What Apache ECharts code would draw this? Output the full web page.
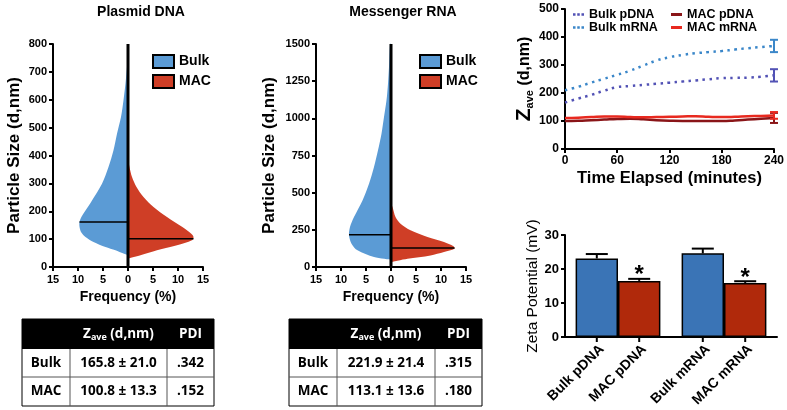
<!DOCTYPE html>
<html><head><meta charset="utf-8">
<script src="https://cdn.jsdelivr.net/npm/echarts@6/dist/echarts.min.js"></script>
<style>html,body{margin:0;padding:0;background:#fff}#c{width:787px;height:410px}</style>
</head><body><div id="c"></div>
<script>
const FONT = "'Liberation Sans', Arial, Helvetica, sans-serif";
const TFONT = "'Open Sans', sans-serif";

// ---- Panel A: Plasmid DNA size distributions  [frequency %, size nm]
const pdnaBulkDist = [[0,42],[0.9,48],[2.5,60],[4.5,72],[6.9,90],[8.5,108],[9.4,126],[9.7,144],[9.7,161],[9.3,180],[8.6,200],[7.2,239],[5.2,299],[3.9,359],[2.9,419],[2.2,478],[1.4,538],[0.9,598],[0.5,658],[0.2,718],[0,760]];
const pdnaMacDist  = [[0,30],[2.5,42],[5.8,60],[9.8,78],[12.8,96],[13.1,108],[12.6,120],[10.8,144],[7.8,179],[5.1,215],[3.1,251],[1.7,287],[0.8,323],[0.3,359],[0,395]];
const pdnaBulkPeak = [9.7, 161];
const pdnaMacPeak  = [13.1, 101];

// ---- Panel B: Messenger RNA size distributions
const mrnaBulkDist = [[0,49],[3.4,67],[6.7,112],[7.9,157],[8.4,213],[8.2,269],[7.4,336],[5.7,448],[4.4,560],[3.4,673],[2.6,785],[1.9,897],[1.4,1009],[0.9,1121],[0.6,1233],[0.4,1345],[0.2,1500],[0,1500]];
const mrnaMacDist  = [[0,34],[3.3,56],[7.9,78],[10.6,101],[12.7,123],[12.5,139],[10.6,168],[7.3,202],[3.9,247],[1.9,291],[0.9,336],[0.3,404],[0,426]];
const mrnaBulkPeak = [8.4, 217];
const mrnaMacPeak  = [12.7, 128];

// ---- Panel C: Z-average over time
const timeMinutes = [0,15,30,45,60,75,90,105,120,135,150,165,180,195,210,225,240];
const zBulkPdna = [166,180,193,208,221,225,229,233,237,241,245,249,253,254,255,258,263];
const zBulkMrna = [210,222,237,251,265,280,298,316,328,336,342,346,350,355,360,364,368];
const zMacPdna  = [100,101,103,105,107,108,106,103,101,100,100,100,100,102,105,108,111];
const zMacMrna  = [111,112,114,116,116,114,113,114,115,116,117,115,114,115,117,118,120];
const zErr240   = [22, 22, 18, 12];   // Bulk pDNA, Bulk mRNA, MAC pDNA, MAC mRNA

// ---- Panel D: Zeta potential
const zetaCategories = ['pDNA', 'mRNA'];
const zetaGroups = ['Bulk', 'MAC'];
const zetaBulk = [23.1, 24.6];
const zetaBulkErr = [1.3, 1.4];
const zetaMac = [16.5, 15.9];
const zetaMacErr = [0.6, 0.5];
const zetaMacSignificant = [true, true];

// ---- Tables
const tableHeader = ['', 'Z|ave| (d,nm)', 'PDI'];
const pdnaTable = [['Bulk', '165.8 ± 21.0', '.342'], ['MAC', '100.8 ± 13.3', '.152']];
const mrnaTable = [['Bulk', '221.9 ± 21.4', '.315'], ['MAC', '113.1 ± 13.6', '.180']];

const C = {
  vBlue: '#5b9bd5', vRed: '#cf3e26',
  bBlue: '#3a74b6', bRed: '#b0290b',
  lBulkP: '#5252b5', lBulkM: '#3b87c9', lMacP: '#8a1518', lMacM: '#e8291f'
};

function axis(o) {
  const a = {
    axisLine: {show: true, onZero: false, lineStyle: {color: '#000', width: 2}},
    axisTick: {show: true, length: 4, lineStyle: {color: '#000', width: 2}},
    axisLabel: {color: '#000', fontWeight: 'bold', fontSize: 11, fontFamily: FONT, margin: 6, formatter: v => String(v)},
    splitLine: {show: false},
    nameLocation: 'middle',
    nameTextStyle: {color: '#000', fontWeight: 'bold', fontFamily: FONT, fontSize: 14}
  };
  for (const k in o) {
    if (a[k] && typeof a[k] === 'object' && typeof o[k] === 'object' && !Array.isArray(o[k])) a[k] = Object.assign({}, a[k], o[k]);
    else a[k] = o[k];
  }
  return a;
}

function violin(name, gi, dist, sign, color) {
  return {
    type: 'custom', name, xAxisIndex: gi, yAxisIndex: gi, z: 2, silent: true,
    itemStyle: {color},
    data: dist,
    renderItem(params, api) {
      if (params.dataIndex !== 0) return null;
      const pts = dist.map(p => api.coord([sign * p[0], p[1]]));
      return {type: 'polyline', shape: {points: pts, smooth: 0.3}, style: {fill: color, stroke: null, lineWidth: 0}};
    }
  };
}
function seg(gi, pts, w, z) {
  return {type: 'line', xAxisIndex: gi, yAxisIndex: gi, data: pts, symbol: 'none', silent: true, z,
    lineStyle: {color: '#000', width: w}, animation: false};
}

const series = [
  violin('Bulk', 0, pdnaBulkDist, -1, C.vBlue),
  violin('MAC', 0, pdnaMacDist, 1, C.vRed),
  seg(0, [[-pdnaBulkPeak[0], pdnaBulkPeak[1]], [0, pdnaBulkPeak[1]]], 1.5, 3),
  seg(0, [[0, pdnaMacPeak[1]], [pdnaMacPeak[0], pdnaMacPeak[1]]], 1.5, 3),
  seg(0, [[0, 0], [0, 800]], 3, 4),
  violin('Bulk', 1, mrnaBulkDist, -1, C.vBlue),
  violin('MAC', 1, mrnaMacDist, 1, C.vRed),
  seg(1, [[-mrnaBulkPeak[0], mrnaBulkPeak[1]], [0, mrnaBulkPeak[1]]], 1.5, 3),
  seg(1, [[0, mrnaMacPeak[1]], [mrnaMacPeak[0], mrnaMacPeak[1]]], 1.5, 3),
  seg(1, [[0, 0], [0, 1500]], 3, 4)
];

const timeSets = [
  ['Bulk pDNA', zBulkPdna, C.lBulkP, true],
  ['Bulk mRNA', zBulkMrna, C.lBulkM, true],
  ['MAC pDNA', zMacPdna, C.lMacP, false],
  ['MAC mRNA', zMacMrna, C.lMacM, false]
];
timeSets.forEach(([name, vals, color, dotted]) => {
  series.push({
    type: 'line', name, xAxisIndex: 2, yAxisIndex: 2, smooth: true, symbol: 'none',
    data: timeMinutes.map((t, i) => [t, vals[i]]),
    itemStyle: {color},
    lineStyle: {color, width: dotted ? 2.5 : 2.5, type: dotted ? [2.5, 4.5] : 'solid'},
    z: dotted ? 3 : 2
  });
});
series.push({
  type: 'custom', xAxisIndex: 2, yAxisIndex: 2, silent: true, z: 5,
  data: timeSets.map((s, i) => [timeMinutes[timeMinutes.length - 1], s[1][s[1].length - 1], zErr240[i], i]),
  renderItem(params, api) {
    const x = api.value(0), v = api.value(1), e = api.value(2), idx = api.value(3);
    const top = api.coord([x, v + e]), bot = api.coord([x, v - e]);
    const st = {stroke: timeSets[idx][2], lineWidth: 2};
    return {type: 'group', children: [
      {type: 'line', shape: {x1: top[0], y1: top[1], x2: bot[0], y2: bot[1]}, style: st},
      {type: 'line', shape: {x1: top[0] - 4, y1: top[1], x2: top[0] + 4, y2: top[1]}, style: st},
      {type: 'line', shape: {x1: bot[0] - 4, y1: bot[1], x2: bot[0] + 4, y2: bot[1]}, style: st}
    ]};
  }
});

// zeta bars
series.push({
  type: 'bar', name: 'Bulk zeta', xAxisIndex: 3, yAxisIndex: 3, data: zetaBulk,
  barGap: '0%', barCategoryGap: '20%', silent: true,
  itemStyle: {color: C.bBlue, borderColor: '#000', borderWidth: 1.5}
});
series.push({
  type: 'bar', name: 'MAC zeta', xAxisIndex: 3, yAxisIndex: 3, data: zetaMac,
  barGap: '0%', barCategoryGap: '20%', silent: true,
  itemStyle: {color: C.bRed, borderColor: '#000', borderWidth: 1.5}
});
const zetaItems = [];
zetaCategories.forEach((c, ci) => {
  zetaItems.push([ci, zetaBulk[ci], zetaBulkErr[ci], 0, 0]);
  zetaItems.push([ci, zetaMac[ci], zetaMacErr[ci], 1, zetaMacSignificant[ci] ? 1 : 0]);
});
series.push({
  type: 'custom', xAxisIndex: 3, yAxisIndex: 3, silent: true, z: 5, data: zetaItems,
  renderItem(params, api) {
    const ci = api.value(0), v = api.value(1), e = api.value(2), g = api.value(3), sig = api.value(4);
    const base = api.coord([ci, 0]);
    const catW = api.size([1, 0])[0];
    const barW = catW * 0.8 / 2;
    const x = base[0] + (g === 0 ? -barW / 2 : barW / 2);
    const yTop = api.coord([ci, v])[1];
    const yErr = api.coord([ci, v + e])[1];
    const st = {stroke: '#000', lineWidth: 2};
    const ch = [
      {type: 'line', shape: {x1: x, y1: yTop, x2: x, y2: yErr}, style: st},
      {type: 'line', shape: {x1: x - 11, y1: yErr, x2: x + 11, y2: yErr}, style: st},
      {type: 'line', shape: {x1: x, y1: base[1], x2: x, y2: base[1] + 5}, style: st},
      {type: 'text', x: x + 5, y: base[1] + 10, rotation: Math.PI / 4,
        style: {text: zetaGroups[g] + ' ' + zetaCategories[ci], align: 'right', verticalAlign: 'middle',
          fontSize: 14, fontWeight: 'bold', fontFamily: FONT, fill: '#000'}}
    ];
    if (sig) ch.push({type: 'text', x: x, y: yErr - 3,
      style: {text: '*', align: 'center', verticalAlign: 'middle', fontSize: 24, fontWeight: 'bold', fontFamily: FONT, fill: '#000'}});
    return {type: 'group', children: ch};
  }
});

// tables
function buildTable(left, top, colW, rowH, header, rows) {
  const els = [];
  const W = colW.reduce((a, b) => a + b, 0), H = rowH.reduce((a, b) => a + b, 0);
  els.push({type: 'rect', shape: {x: left, y: top, width: W, height: H}, style: {fill: '#fff', stroke: '#000', lineWidth: 1}});
  els.push({type: 'rect', shape: {x: left, y: top, width: W, height: rowH[0]}, style: {fill: '#000'}});
  let y = top + rowH[0];
  for (let r = 1; r < rowH.length; r++) {
    if (r > 1) els.push({type: 'line', shape: {x1: left, y1: y, x2: left + W, y2: y}, style: {stroke: '#555', lineWidth: 1}});
    y += rowH[r];
  }
  let x = left;
  for (let c = 0; c < colW.length - 1; c++) {
    x += colW[c];
    els.push({type: 'line', shape: {x1: x, y1: top + rowH[0], x2: x, y2: top + H}, style: {stroke: '#555', lineWidth: 1}});
  }
  const all = [header].concat(rows);
  let yy = top;
  all.forEach((row, r) => {
    let xx = left;
    row.forEach((txt, c) => {
      const cx = xx + colW[c] / 2, cy = yy + rowH[r] / 2;
      if (txt) {
        const parts = txt.split('|');
        const st = {align: 'center', verticalAlign: 'middle', fontFamily: TFONT, fontWeight: 'bold', fontSize: 13.5, fill: r === 0 ? '#fff' : '#000'};
        if (parts.length === 3) {
          st.text = '{a|' + parts[0] + '}{b|' + parts[1] + '}{a|' + parts[2] + '}';
          st.rich = {a: {fontSize: 13.5, fontWeight: 'bold', fontFamily: TFONT, fill: '#fff', color: '#fff'},
                     b: {fontSize: 9, fontWeight: 'bold', fontFamily: TFONT, fill: '#fff', color: '#fff', verticalAlign: 'bottom', padding: [6, 0, 0, 0]}};
        } else st.text = txt;
        els.push({type: 'text', x: cx, y: cy, style: st});
      }
      xx += colW[c];
    });
    yy += rowH[r];
  });
  return els;
}
const graphics = [].concat(
  buildTable(22, 319, [48, 97, 47], [30, 28, 29], tableHeader, pdnaTable),
  buildTable(289, 319, [48, 98, 47], [30, 28, 29], tableHeader, mrnaTable)
);

const legendText = {color: '#000', fontWeight: 'bold', fontFamily: FONT, fontSize: 14};
const vLegendData = [
  {name: 'Bulk', icon: 'rect', itemStyle: {borderColor: '#000', borderWidth: 2}},
  {name: 'MAC', icon: 'rect', itemStyle: {borderColor: '#000', borderWidth: 2}}
];
const DOTS = 'path://M0,0h3v3h-3z M5,0h3v3h-3z M10,0h3v3h-3z';
const tLegendText = Object.assign({}, legendText, {fontSize: 12.5, lineHeight: 12});

const option = {
  animation: false,
  backgroundColor: '#fff',
  title: [
    {text: 'Plasmid DNA', left: 136, top: 0, textAlign: 'center', textStyle: {fontFamily: FONT, fontWeight: 'bold', fontSize: 14, color: '#000'}},
    {text: 'Messenger RNA', left: 398, top: 0, textAlign: 'center', textStyle: {fontFamily: FONT, fontWeight: 'bold', fontSize: 14, color: '#000'}}
  ],
  legend: [
    {left: 147, top: 49, orient: 'vertical', itemWidth: 21, itemHeight: 13, itemGap: 5, selectedMode: false, data: vLegendData, textStyle: legendText},
    {left: 414, top: 49, orient: 'vertical', itemWidth: 21, itemHeight: 13, itemGap: 5, selectedMode: false, data: vLegendData, textStyle: legendText},
    {left: 573, top: 8, orient: 'vertical', itemWidth: 11, itemHeight: 3, itemGap: 0, selectedMode: false, padding: 0,
      data: [{name: 'Bulk pDNA', icon: DOTS}, {name: 'Bulk mRNA', icon: DOTS}], textStyle: tLegendText},
    {left: 671, top: 8, orient: 'vertical', itemWidth: 11, itemHeight: 3, itemGap: 0, selectedMode: false, padding: 0,
      data: [{name: 'MAC pDNA', icon: 'rect'}, {name: 'MAC mRNA', icon: 'rect'}], textStyle: tLegendText}
  ],
  grid: [
    {left: 53, top: 44, width: 150, height: 223},
    {left: 316, top: 44, width: 150, height: 223},
    {left: 565, top: 9, width: 210, height: 140},
    {left: 565, top: 235, width: 212, height: 102}
  ],
  xAxis: [
    axis({type: 'value', gridIndex: 0, min: -15, max: 15, interval: 5, name: 'Frequency (%)', nameGap: 20,
      axisLabel: {formatter: v => String(Math.abs(v)), margin: 7}}),
    axis({type: 'value', gridIndex: 1, min: -15, max: 15, interval: 5, name: 'Frequency (%)', nameGap: 20,
      axisLabel: {formatter: v => String(Math.abs(v)), margin: 7}}),
    axis({type: 'value', gridIndex: 2, min: 0, max: 240, interval: 60, name: 'Time Elapsed (minutes)', nameGap: 21,
      axisLabel: {fontSize: 12}, nameTextStyle: {fontSize: 16.5, fontWeight: 'bold', color: '#000', fontFamily: FONT}}),
    axis({type: 'category', gridIndex: 3, data: zetaCategories, axisTick: {show: false}, axisLabel: {show: false}})
  ],
  yAxis: [
    axis({type: 'value', gridIndex: 0, min: 0, max: 800, interval: 100, name: 'Particle Size (d,nm)', nameGap: 30,
      nameTextStyle: {fontSize: 17, fontWeight: 'bold', color: '#000', fontFamily: FONT}}),
    axis({type: 'value', gridIndex: 1, min: 0, max: 1500, interval: 250, name: 'Particle Size (d,nm)', nameGap: 38,
      nameTextStyle: {fontSize: 17, fontWeight: 'bold', color: '#000', fontFamily: FONT}}),
    axis({type: 'value', gridIndex: 2, min: 0, max: 500, interval: 100, name: '{z|Z}{s|ave}{n| (d,nm)}', nameGap: 29,
      axisLabel: {fontSize: 12},
      nameTextStyle: {color: '#000', fontFamily: FONT, rich: {
        z: {fontSize: 21, fontWeight: 'bold', fontFamily: FONT, color: '#000'},
        s: {fontSize: 11, fontWeight: 'bold', fontFamily: FONT, color: '#000', verticalAlign: 'bottom', padding: [8, 0, 0, 0]},
        n: {fontSize: 16, fontWeight: 'bold', fontFamily: FONT, color: '#000'}}}}),
    axis({type: 'value', gridIndex: 3, min: 0, max: 30, interval: 10, name: 'Zeta Potential (mV)', nameGap: 23,
      axisLabel: {fontSize: 13},
      nameTextStyle: {fontSize: 15.5, fontWeight: 'normal', color: '#000', fontFamily: FONT}})
  ],
  series,
  graphic: graphics
};

const chart = echarts.init(document.getElementById('c'), null, {renderer: 'canvas'});
chart.setOption(option);
</script></body></html>
